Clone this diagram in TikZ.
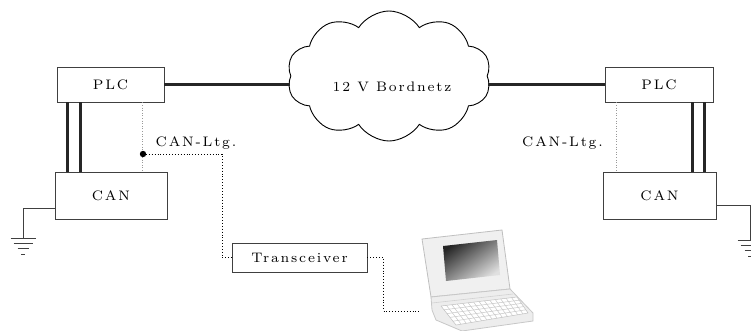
\documentclass[tikz,border=0pt]{standalone}
\usetikzlibrary{shapes.symbols,calc}
% widely spaced Latin Modern for all labels
\font\lblfont="[lmroman7-regular.otf]:letterspace=13" at 13.8pt
\begin{document}
\begin{tikzpicture}[x=1pt,y=-1pt,
  box/.style={draw=black!75, line width=0.9pt, fill=white, inner sep=0pt, font=\lblfont},
  bus/.style={line width=2.6pt, draw=black!85},
  link/.style={dotted, line width=0.9pt, black},
  tapline/.style={dotted, line width=0.6pt, black!40},
  gndline/.style={line width=0.9pt, black!75},
  lbl/.style={font=\lblfont, inner sep=0pt},
  gnd/.pic={
    \draw[gndline] (-12.5,0) -- (12.5,0)
                   (-9.5,5) -- (9.5,5)
                   (-5.5,10) -- (5.5,10)
                   (-1.8,16) -- (1.8,16);
  },
]
\useasboundingbox (0,0) rectangle (751,331);

% ---- modules ----
\node[box, minimum width=107pt, minimum height=35pt] (lplc) at (110.5,84.5) {PLC};
\node[box, minimum width=112pt, minimum height=47pt] (lcan) at (111,195.5) {CAN};
\node[box, minimum width=108pt, minimum height=35pt] (rplc) at (659,84.5) {PLC};
\node[box, minimum width=113pt, minimum height=47pt] (rcan) at (659.5,195.5) {CAN};
\node[box, minimum width=135pt, minimum height=29pt] (trx) at (299.5,257.5) {Transceiver};

% ---- on-board network ----
\node[cloud, draw, line width=0.9pt, cloud puffs=10, cloud puff arc=115, aspect=1.6,
      minimum width=204pt, minimum height=130pt, inner sep=0pt] (net) at (389,76) {};
\node[lbl] (netlbl) at (392,87) {12 V Bordnetz};

\draw[bus] (lplc.east) -- (lplc.east -| net.west);
\draw[bus] (rplc.west) -- (rplc.west -| net.east);

% ---- PLC to CAN power pairs ----
\draw[bus] ([xshift=11pt]lplc.south west) -- ([xshift=11pt]lplc.south west |- lcan.north);
\draw[bus] ([xshift=24pt]lplc.south west) -- ([xshift=24pt]lplc.south west |- lcan.north);
\draw[bus] ([xshift=-21pt]rplc.south east) -- ([xshift=-21pt]rplc.south east |- rcan.north);
\draw[bus] ([xshift=-9pt]rplc.south east) -- ([xshift=-9pt]rplc.south east |- rcan.north);

% ---- CAN lines ----
\draw[tapline] ([xshift=86pt]lplc.south west) -- ([xshift=86pt]lplc.south west |- lcan.north);
\draw[tapline] ([xshift=12pt]rplc.south west) -- ([xshift=12pt]rplc.south west |- rcan.north);
\node[lbl] (lcanl) at (196,143) {CAN-Ltg.};
\node[lbl] (rcanl) at (562.5,143) {CAN-Ltg.};

% ---- diagnostic branch ----
\coordinate (tap) at (143,154);
\coordinate (pc) at (420,311);
\fill (tap) circle (3.2pt);
\draw[link] (tap) -- ++(79,0) |- (trx.west);
\draw[link] (trx.east) -- ++(16,0) |- (pc);

% ---- grounds ----
\coordinate (lg) at (23,238);
\coordinate (rg) at (750,240);
\draw[gndline] (lcan.west |- 0,208) -| (lg);
\draw[gndline] (rcan.east |- 0,205) -| (rg);
\pic at (lg) {gnd};
\pic at (rg) {gnd};

% ---- laptop ----
\coordinate (l1) at (422,239);
\coordinate (l2) at (502,230);
\coordinate (l3) at (510,289);
\coordinate (l4) at (431,297);
\filldraw[fill=black!6, draw=black!25, line width=0.8pt] (l1) -- (l2) -- (l3) -- (l4) -- cycle;
\shade[top color=black!85, bottom color=black!12, shading angle=35]
  (443,246) -- (497,240) -- (500,275) -- (446,281) -- cycle;
\filldraw[fill=black!7, draw=black!22, line width=0.8pt]
  (431,297) -- (510,289) -- (533,313) -- (533,321) -- (462,331) -- (436,320) -- (432,310) -- cycle;
\draw[black!18, line width=0.6pt] (432,303) -- (513,294);
\coordinate (k1) at (441,306);
\coordinate (k2) at (517,297);
\coordinate (k3) at (528,313);
\coordinate (k4) at (456,325);
\filldraw[fill=white, draw=black!25, line width=0.5pt] (k1) -- (k2) -- (k3) -- (k4) -- cycle;
\foreach \i in {1,...,4}
  \draw[black!22, line width=0.5pt] ($(k1)!\i/5!(k4)$) -- ($(k2)!\i/5!(k3)$);
\foreach \j in {1,...,13}
  \draw[black!22, line width=0.5pt] ($(k1)!\j/14!(k2)$) -- ($(k4)!\j/14!(k3)$);
\end{tikzpicture}
\end{document}
